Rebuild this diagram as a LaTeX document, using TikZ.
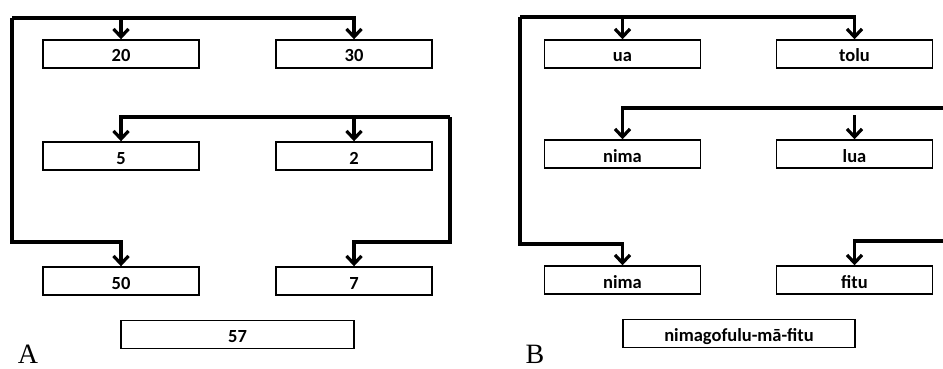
\documentclass[tikz,border=0pt]{standalone}
\usepackage{fontspec}
\setmainfont{Carlito}
\newfontfamily\panelfont{Liberation Serif}
\usepackage{tikz}
\usetikzlibrary{arrows.meta,positioning,calc}

\begin{document}
\begin{tikzpicture}[
    x=1pt, y=-1pt,
    box/.style={draw=black, line width=1.4pt, minimum width=156pt, minimum height=28pt, inner sep=0pt, text height=16pt, text depth=0pt, align=center, font=\fontsize{18.5}{20}\selectfont\bfseries},
    wide/.style={box, minimum width=233pt},
    link/.style={line width=3.2pt, draw=black, line join=miter},
    arr/.style={link, -{Straight Barb[length=8pt, width=15pt]}},
    panel/.style={font=\fontsize{28}{30}\selectfont\panelfont, inner sep=0pt, anchor=base}
]
  \useasboundingbox (0,0) rectangle (943,369);

  % panel A
  \node[box] (a20) at (121, 54)  {20};
  \node[box] (a30) at (354, 54)  {30};
  \node[box] (a5)  at (121, 156) {5};
  \node[box] (a2)  at (354, 156) {2};
  \node[box] (a50) at (121, 281) {50};
  \node[box] (a7)  at (354, 281) {7};
  \node[wide] (a57) at (237.5, 334.5) {57};
  \node[panel] (labA) at (28, 363) {A};

  \coordinate (atop) at (12, 18);
  \coordinate (abot) at (12, 242);
  \coordinate (amid) at (450, 117);
  \coordinate (aend) at (450, 242);

  \draw[arr] (atop) -| (a30.north);
  \draw[arr] (a20.north |- atop) -- (a20.north);
  \draw[arr] (atop) -- (abot) -| (a50.north);
  \draw[arr] (amid) -| (a5.north);
  \draw[arr] (a2.north |- amid) -- (a2.north);
  \draw[arr] (amid) -- (aend) -| (a7.north);

  % panel B
  \node[box] (bua)   at (622.5, 54)  {ua};
  \node[box] (btolu) at (854.5, 54)  {tolu};
  \node[box] (bnima) at (622.5, 154) {nima};
  \node[box] (blua)  at (854.5, 154) {lua};
  \node[box] (bnimb) at (622.5, 280) {nima};
  \node[box] (bfitu) at (854.5, 280) {fitu};
  \node[wide, minimum width=232pt] (bsum) at (739, 333.5) {nimagofulu-mā-fitu};
  \node[panel] (labB) at (535, 363) {B};

  \coordinate (btop) at (520, 17);
  \coordinate (bbot) at (520, 244);
  \coordinate (bmid) at (943, 108);
  \coordinate (blow) at (943, 241);
  \coordinate (bstub) at (854.5, 115);

  \draw[arr] (btop) -| (btolu.north);
  \draw[arr] (bua.north |- btop) -- (bua.north);
  \draw[arr] (btop) -- (bbot) -| (bnimb.north);
  \draw[arr] (bmid) -| (bnima.north);
  \draw[arr] (bstub) -- (blua.north);
  \draw[arr] (blow) -| (bfitu.north);
\end{tikzpicture}
\end{document}
